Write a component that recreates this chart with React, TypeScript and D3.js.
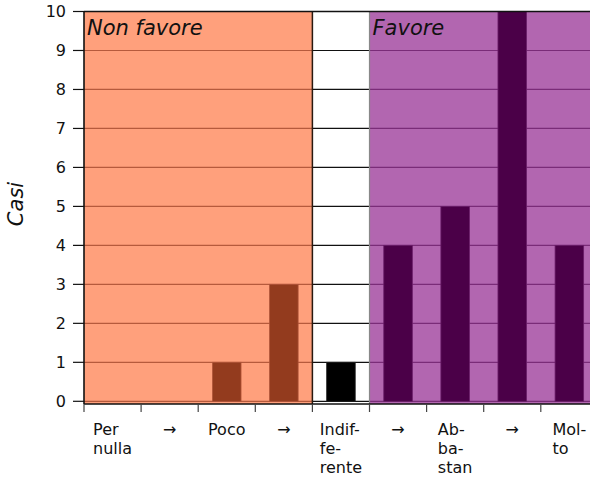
import React from "react";
import * as d3 from "d3";

const categories: string[][] = [
  ["Per", "nulla"],
  ["→"],
  ["Poco"],
  ["→"],
  ["Indif-", "fe-", "rente"],
  ["→"],
  ["Ab-", "ba-", "stan"],
  ["→"],
  ["Mol-", "to"],
];
const counts: number[] = [0, 0, 1, 3, 1, 4, 5, 10, 4];
const groupOf: number[] = [0, 0, 0, 0, 1, 2, 2, 2, 2];
const groupNames: string[] = ["Non favore", "", "Favore"];
const yTicks: number[] = [0, 1, 2, 3, 4, 5, 6, 7, 8, 9, 10];

const W = 590;
const H = 477;
const FONT = "DejaVu Sans, sans-serif";

const groupStyle = [
  { bg: "#FFA07C", bar: "#933B1E", grid: "#B65A3C", barStroke: "#B0553A" },
  { bg: "#FFFFFF", bar: "#000000", grid: "#111111", barStroke: "#222222" },
  { bg: "#B266B0", bar: "#4B0048", grid: "#7A2C78", barStroke: "#6A1E68" },
];

let ctx: CanvasRenderingContext2D | null = null;
function measure(s: string, size: number): number {
  if (!ctx) {
    const c = document.createElement("canvas");
    ctx = c.getContext("2d");
  }
  if (!ctx) return s.length * size * 0.6;
  ctx.font = `${size}px "DejaVu Sans"`;
  return ctx.measureText(s).width;
}

export default function App() {
  const left = 84;
  const step = 57.1;
  const x = d3.scaleLinear().domain([0, categories.length]).range([left, left + step * categories.length]);
  const y = d3.scaleLinear().domain([0, 10]).range([401.3, 11.5]);
  const plotTop = y(10);
  const plotBottom = 404;

  const groups = [0, 1, 2].map((g) => {
    const idx = groupOf.map((v, i) => (v === g ? i : -1)).filter((i) => i >= 0);
    return { g, start: d3.min(idx)!, end: d3.max(idx)! + 1 };
  });

  return (
    <svg
      width={W}
      height={H}
      style={{ position: "absolute", left: 0, top: 0, display: "block", background: "#fff" }}
      fontFamily={FONT}
    >
      {groups.map(({ g, start, end }) => (
        <rect
          key={"bg" + g}
          x={x(start)}
          y={plotTop}
          width={x(end) - x(start)}
          height={plotBottom - plotTop}
          fill={groupStyle[g].bg}
        />
      ))}
      {groups.map(({ g, start, end }) =>
        yTicks.map((t) => (
          <line
            key={"g" + g + "-" + t}
            x1={x(start)}
            x2={x(end)}
            y1={y(t)}
            y2={y(t)}
            stroke={groupStyle[g].grid}
            strokeWidth={1.2}
          />
        ))
      )}
      {counts.map((c, i) => {
        const s = groupStyle[groupOf[i]];
        const h = Math.max(y(0) - y(c), 0);
        return (
          <rect
            key={"b" + i}
            x={x(i + 0.25)}
            y={y(c)}
            width={x(i + 0.75) - x(i + 0.25)}
            height={h}
            fill={s.bar}
            stroke={s.barStroke}
            strokeWidth={c === 0 ? 1.2 : 0.8}
          />
        );
      })}
      <line x1={x(4)} x2={x(4)} y1={plotTop} y2={plotBottom} stroke="#2a1a10" strokeWidth={1.5} />
      <line x1={x(5)} x2={x(5)} y1={plotTop} y2={plotBottom} stroke="#888" strokeWidth={1.2} />
      <line x1={left} x2={W} y1={plotTop} y2={plotTop} stroke="#111" strokeWidth={1.5} />
      <line x1={left} x2={left} y1={plotTop} y2={plotBottom} stroke="#111" strokeWidth={1.6} />
      <line x1={left} x2={W} y1={plotBottom} y2={plotBottom} stroke="#111" strokeWidth={1.5} />
      {groups.map(({ g, start }) =>
        groupNames[g] ? (
          <text key={"t" + g} x={x(start) + 3} y={35} fontSize={21} fontStyle="italic" fill="#111">
            {groupNames[g]}
          </text>
        ) : null
      )}
      {yTicks.map((t) => (
        <g key={"yt" + t}>
          <line x1={left - 11} x2={left} y1={y(t)} y2={y(t)} stroke="#111" strokeWidth={1.2} />
          <text x={66} y={y(t)} dy="0.36em" textAnchor="end" fontSize={16} fill="#111">
            {t}
          </text>
        </g>
      ))}
      {categories.map((lines, i) => {
        const wMax = d3.max(lines, (l) => measure(l, 16)) || 0;
        const cx = x(i + 0.5);
        const lx = cx - wMax / 2;
        return (
          <g key={"xt" + i}>
            <line x1={x(i)} x2={x(i)} y1={plotBottom} y2={plotBottom + 8} stroke="#444" strokeWidth={1.2} />
            <text x={lx} y={434.5} fontSize={16} fill="#111">
              {lines.map((l, k) => (
                <tspan key={k} x={lx} dy={k === 0 ? 0 : 19.3}>
                  {l}
                </tspan>
              ))}
            </text>
          </g>
        );
      })}
      <text
        transform={`translate(23, 204) rotate(-90)`}
        textAnchor="middle"
        fontSize={21}
        fontStyle="italic"
        fill="#111"
      >
        Casi
      </text>
    </svg>
  );
}
